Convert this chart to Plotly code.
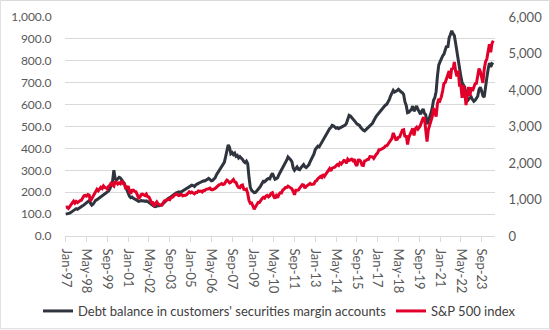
import pandas as pd
import plotly.graph_objects as go

# Debt balance in customers' securities margin accounts (USD bn), monthly Jan-97 .. Jun-24
debt_1997 = [100, 101, 100, 104, 108, 112, 118, 121, 125, 122, 127, 131]
debt_1998 = [134, 138, 142, 146, 150, 155, 162, 150, 141, 145, 155, 163]
debt_1999 = [166, 170, 175, 180, 186, 190, 193, 196, 200, 206, 216, 230]
debt_2000 = [250, 300, 262, 255, 262, 268, 265, 258, 250, 240, 225, 210]
debt_2001 = [195, 182, 175, 178, 172, 170, 166, 162, 158, 160, 162, 160]
debt_2002 = [161, 158, 160, 157, 153, 148, 141, 138, 135, 134, 137, 139]
debt_2003 = [138, 140, 143, 149, 156, 162, 167, 172, 175, 180, 184, 188]
debt_2004 = [192, 197, 199, 201, 198, 202, 205, 208, 212, 217, 221, 226]
debt_2005 = [228, 232, 230, 226, 233, 238, 240, 243, 246, 248, 252, 251]
debt_2006 = [256, 261, 263, 258, 252, 254, 259, 266, 280, 290, 300, 312]
debt_2007 = [318, 326, 336, 362, 392, 416, 405, 376, 381, 372, 378, 364]
debt_2008 = [368, 356, 362, 358, 350, 340, 335, 342, 330, 268, 222, 208]
debt_2009 = [203, 198, 199, 205, 212, 220, 229, 240, 250, 248, 256, 259]
debt_2010 = [263, 261, 276, 286, 272, 259, 262, 266, 280, 291, 296, 306]
debt_2011 = [318, 331, 346, 361, 356, 348, 340, 311, 300, 311, 315, 305]
debt_2012 = [303, 312, 320, 326, 316, 312, 318, 325, 338, 350, 362, 375]
debt_2013 = [395, 402, 410, 407, 418, 428, 440, 447, 456, 470, 482, 490]
debt_2014 = [495, 505, 503, 498, 492, 495, 490, 494, 498, 500, 502, 506]
debt_2015 = [515, 531, 551, 548, 542, 535, 528, 520, 512, 509, 505, 495]
debt_2016 = [488, 483, 480, 486, 490, 495, 502, 510, 515, 526, 540, 548]
debt_2017 = [555, 563, 568, 575, 582, 590, 598, 601, 611, 624, 640, 655]
debt_2018 = [665, 657, 660, 664, 670, 662, 658, 655, 646, 612, 596, 563]
debt_2019 = [565, 572, 578, 593, 570, 580, 594, 578, 565, 556, 571, 580]
debt_2020 = [560, 554, 510, 525, 540, 560, 585, 620, 631, 660, 730, 780]
debt_2021 = [795, 812, 822, 830, 850, 868, 860, 905, 920, 937, 925, 915]
debt_2022 = [880, 837, 800, 775, 730, 700, 690, 680, 650, 616, 625, 630]
debt_2023 = [635, 623, 615, 620, 630, 638, 669, 679, 662, 640, 634, 690]
debt_2024 = [722, 760, 790, 772, 786, 782]

# S&P 500 index, monthly Jan-97 .. Jun-24
spx_1997 = [786, 791, 757, 801, 848, 885, 954, 899, 947, 915, 955, 970]
spx_1998 = [980, 1049, 1102, 1112, 1091, 1134, 1121, 957, 1017, 1099, 1164, 1229]
spx_1999 = [1280, 1238, 1286, 1335, 1302, 1373, 1329, 1320, 1283, 1363, 1389, 1469]
spx_2000 = [1394, 1366, 1499, 1452, 1421, 1455, 1431, 1518, 1437, 1429, 1315, 1320]
spx_2001 = [1366, 1240, 1160, 1249, 1256, 1224, 1211, 1134, 1041, 1060, 1139, 1148]
spx_2002 = [1130, 1107, 1147, 1077, 1067, 990, 912, 916, 815, 886, 936, 880]
spx_2003 = [856, 841, 848, 917, 964, 975, 990, 1008, 996, 1051, 1058, 1112]
spx_2004 = [1131, 1145, 1126, 1107, 1121, 1141, 1102, 1104, 1115, 1130, 1174, 1212]
spx_2005 = [1181, 1204, 1181, 1157, 1192, 1191, 1234, 1220, 1229, 1207, 1249, 1248]
spx_2006 = [1280, 1281, 1295, 1311, 1270, 1270, 1277, 1304, 1336, 1378, 1401, 1418]
spx_2007 = [1438, 1407, 1421, 1482, 1531, 1503, 1455, 1474, 1527, 1549, 1481, 1468]
spx_2008 = [1379, 1331, 1323, 1386, 1400, 1280, 1267, 1283, 1166, 969, 896, 903]
spx_2009 = [826, 735, 798, 873, 919, 919, 987, 1021, 1057, 1036, 1096, 1115]
spx_2010 = [1074, 1104, 1169, 1187, 1089, 1031, 1102, 1049, 1141, 1183, 1181, 1258]
spx_2011 = [1286, 1327, 1326, 1364, 1345, 1321, 1292, 1219, 1131, 1253, 1247, 1258]
spx_2012 = [1312, 1366, 1408, 1398, 1310, 1362, 1379, 1407, 1441, 1412, 1416, 1426]
spx_2013 = [1498, 1515, 1569, 1598, 1631, 1606, 1686, 1633, 1682, 1757, 1806, 1848]
spx_2014 = [1783, 1859, 1872, 1884, 1924, 1960, 1931, 2003, 1972, 2018, 2068, 2059]
spx_2015 = [1995, 2105, 2068, 2086, 2107, 2063, 2104, 1972, 1920, 2079, 2080, 2044]
spx_2016 = [1940, 1932, 2060, 2065, 2097, 2099, 2174, 2171, 2168, 2126, 2199, 2239]
spx_2017 = [2279, 2364, 2363, 2384, 2412, 2423, 2470, 2472, 2519, 2575, 2648, 2674]
spx_2018 = [2824, 2714, 2641, 2648, 2705, 2718, 2816, 2902, 2914, 2712, 2760, 2507]
spx_2019 = [2704, 2784, 2834, 2946, 2752, 2942, 2980, 2926, 2977, 3038, 3141, 3231]
spx_2020 = [3226, 2954, 2585, 2912, 3044, 3100, 3271, 3500, 3363, 3270, 3622, 3756]
spx_2021 = [3714, 3811, 3973, 4181, 4204, 4298, 4395, 4523, 4308, 4605, 4567, 4766]
spx_2022 = [4516, 4374, 4530, 4132, 4132, 3785, 4130, 3955, 3586, 3872, 4080, 3840]
spx_2023 = [4077, 3970, 4109, 4169, 4180, 4450, 4589, 4508, 4288, 4194, 4568, 4770]
spx_2024 = [4846, 5096, 5254, 5036, 5277, 5350]

debt = (debt_1997 + debt_1998 + debt_1999 + debt_2000 + debt_2001 + debt_2002 + debt_2003
        + debt_2004 + debt_2005 + debt_2006 + debt_2007 + debt_2008 + debt_2009 + debt_2010
        + debt_2011 + debt_2012 + debt_2013 + debt_2014 + debt_2015 + debt_2016 + debt_2017
        + debt_2018 + debt_2019 + debt_2020 + debt_2021 + debt_2022 + debt_2023 + debt_2024)
spx = (spx_1997 + spx_1998 + spx_1999 + spx_2000 + spx_2001 + spx_2002 + spx_2003
       + spx_2004 + spx_2005 + spx_2006 + spx_2007 + spx_2008 + spx_2009 + spx_2010
       + spx_2011 + spx_2012 + spx_2013 + spx_2014 + spx_2015 + spx_2016 + spx_2017
       + spx_2018 + spx_2019 + spx_2020 + spx_2021 + spx_2022 + spx_2023 + spx_2024)

months = pd.date_range("1997-01-01", periods=len(debt), freq="MS").strftime("%b-%y").tolist()
idx = list(range(len(months)))
tick_idx = idx[::16]
tick_text = [months[i] for i in tick_idx]

left_ticks = [0, 100, 200, 300, 400, 500, 600, 700, 800, 900, 1000]
left_text = [f"{v:,.1f}" for v in left_ticks]
right_ticks = [0, 1000, 2000, 3000, 4000, 5000, 6000]
right_text = [f"{v:,}" for v in right_ticks]

BLACK = "#30343e"
RED = "#e2002a"
FONT = "Lato"
GRID = "#d9d9d9"

fig = go.Figure()
fig.add_trace(go.Scatter(x=idx, y=debt, mode="lines",
                         name="Debt balance in customers' securities margin accounts",
                         line=dict(color=BLACK, width=3), yaxis="y", legend="legend"))
fig.add_trace(go.Scatter(x=idx, y=spx, mode="lines", name="S&P 500 index",
                         line=dict(color=RED, width=3), yaxis="y2", legend="legend2"))

X0 = -0.6
X1 = 330.3
L, R, T, B = 65.2, 495.0, 17, 236.5
W, H = 550, 330
leg_common = dict(orientation="h", xref="container", yref="container", xanchor="left",
                  y=1 - 311 / 330, yanchor="middle", font=dict(family=FONT, size=13, color="#404040"),
                  itemwidth=30, bgcolor="rgba(0,0,0,0)", borderwidth=0)
fig.update_layout(
    width=W, height=H,
    margin=dict(l=L, r=W - R, t=T, b=H - B, pad=0, autoexpand=False),
    paper_bgcolor="white", plot_bgcolor="white",
    font=dict(family=FONT, size=13, color="#595959"),
    showlegend=True,
    legend=dict(x=38 / W, **leg_common),
    legend2=dict(x=391 / W, **leg_common),
    xaxis=dict(range=[X0, X1], tickmode="array", tickvals=tick_idx, ticktext=tick_text,
               tickangle=90, showgrid=False, zeroline=False, showline=True, linecolor=GRID,
               linewidth=1, ticks="outside", ticklen=5, tickcolor=GRID, ticklabelstandoff=4,
               tickfont=dict(size=13, color="#595959"), automargin=False),
    yaxis=dict(range=[0, 1000], tickmode="array", tickvals=left_ticks, ticktext=left_text,
               showgrid=True, gridcolor=GRID, gridwidth=1, zeroline=False, showline=False,
               ticks="outside", ticklen=10, tickcolor="rgba(0,0,0,0)", automargin=False,
               tickfont=dict(size=12, color="#595959")),
    yaxis2=dict(range=[0, 6000], overlaying="y", side="right", tickmode="array",
                tickvals=right_ticks, ticktext=right_text, showgrid=False, zeroline=False,
                showline=False, ticks="outside", ticklen=10, tickcolor="rgba(0,0,0,0)",
                automargin=False, tickfont=dict(size=13, color="#595959")),
)

pw, ph = R - L, B - T
fig.add_shape(type="rect", xref="paper", yref="paper",
              x0=(0.5 - L) / pw, x1=(W - 0.5 - L) / pw,
              y0=(B - (H - 0.5)) / ph, y1=(B - 0.5) / ph,
              line=dict(color=GRID, width=1), fillcolor="rgba(0,0,0,0)", layer="below")

fig.write_html("out.html")
